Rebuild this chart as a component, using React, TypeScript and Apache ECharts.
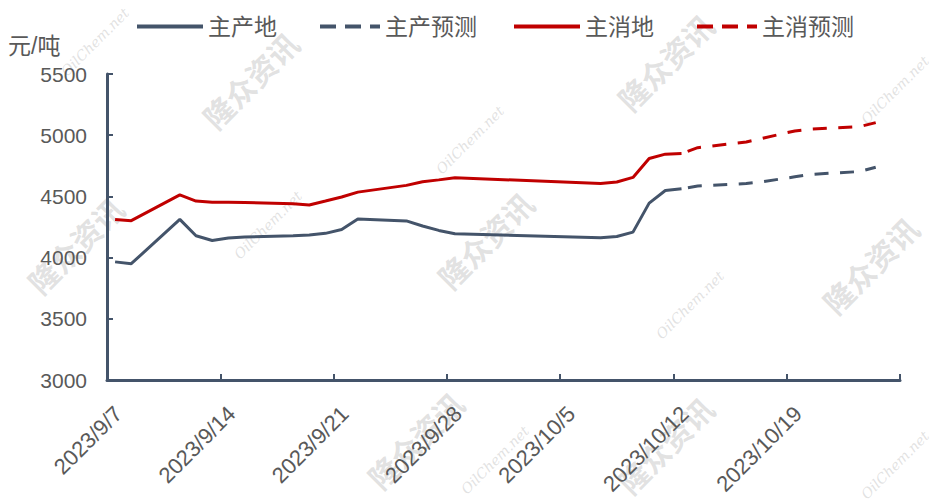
import React, { useEffect, useRef } from "react";
import * as echarts from "echarts";

// 实际价格日期与数据
const actualDates = [
  "2023/9/7", "2023/9/8", "2023/9/11", "2023/9/12", "2023/9/13", "2023/9/14", "2023/9/15",
  "2023/9/18", "2023/9/19", "2023/9/20", "2023/9/21", "2023/9/22",
  "2023/9/25", "2023/9/26", "2023/9/27", "2023/9/28",
  "2023/10/7", "2023/10/8", "2023/10/9", "2023/10/10", "2023/10/11", "2023/10/12",
];
const producerPrice = [
  3965, 3950, 4312, 4178, 4140, 4160, 4168,
  4178, 4185, 4198, 4230, 4315,
  4300, 4258, 4222, 4195,
  4162, 4172, 4208, 4445, 4548, 4562,
];
const consumerPrice = [
  4312, 4302, 4512, 4462, 4452, 4452, 4450,
  4440, 4430, 4462, 4495, 4535,
  4590, 4620, 4635, 4652,
  4606, 4618, 4655, 4810, 4845, 4850,
];

// 预测
const forecastDates = [
  "2023/10/12", "2023/10/13", "2023/10/16", "2023/10/17", "2023/10/18",
  "2023/10/19", "2023/10/20", "2023/10/23", "2023/10/24",
];
const producerForecast = [4562, 4585, 4605, 4620, 4640, 4660, 4680, 4703, 4738];
const consumerForecast = [4850, 4898, 4945, 4975, 5005, 5035, 5050, 5070, 5103];

// 坐标轴
const axisStartDate = "2023/9/7";
const axisEndDate = "2023/10/26";
const xLabelDates = ["2023/9/7", "2023/9/14", "2023/9/21", "2023/9/28", "2023/10/5", "2023/10/12", "2023/10/19"];
const xTickDates = ["2023/9/7", "2023/9/14", "2023/9/21", "2023/9/28", "2023/10/5", "2023/10/12", "2023/10/19", "2023/10/26"];
const yMin = 3000;
const yMax = 5500;
const yStep = 500;

const seriesNames = ["主产地", "主产预测", "主消地", "主消预测"];
const unitLabel = "元/吨";

const DAY = 86400000;
const toUTC = (s: string) => {
  const [y, m, d] = s.split("/").map(Number);
  return Date.UTC(y, m - 1, d);
};
const base = toUTC(axisStartDate);
const dayIdx = (s: string) => Math.round((toUTC(s) - base) / DAY);
const idxToLabel = (v: number) => {
  const dt = new Date(base + Math.round(v) * DAY);
  return `${dt.getUTCFullYear()}/${dt.getUTCMonth() + 1}/${dt.getUTCDate()}`;
};

const BLUE = "#44546a";
const RED = "#c00000";
const FONT = "'Liberation Sans', 'Noto Sans CJK SC', sans-serif";

const watermarks = [
  { t: "隆众资讯", x: 250, y: 80, s: 30 },
  { t: "隆众资讯", x: 75, y: 245, s: 30 },
  { t: "隆众资讯", x: 485, y: 240, s: 30 },
  { t: "隆众资讯", x: 665, y: 62, s: 30 },
  { t: "隆众资讯", x: 870, y: 265, s: 30 },
  { t: "隆众资讯", x: 415, y: 440, s: 30 },
  { t: "隆众资讯", x: 665, y: 445, s: 30 },
  { t: "OilChem.net", x: 268, y: 225, s: 14 },
  { t: "OilChem.net", x: 690, y: 305, s: 14 },
  { t: "OilChem.net", x: 895, y: 90, s: 14 },
  { t: "OilChem.net", x: 470, y: 140, s: 14 },
  { t: "OilChem.net", x: 95, y: 42, s: 14 },
  { t: "OilChem.net", x: 495, y: 460, s: 14 },
  { t: "OilChem.net", x: 895, y: 465, s: 14 },
];

export default function App() {
  const ref = useRef<HTMLDivElement>(null);
  useEffect(() => {
    if (!ref.current) return;
    const chart = echarts.init(ref.current, null, { renderer: "svg" });
    const startIdx = dayIdx(axisStartDate);
    const endIdx = dayIdx(axisEndDate);
    const mk = (ds: string[], vs: number[]) => ds.map((d, i) => [dayIdx(d), vs[i]]);
    const legendColors = [BLUE, BLUE, RED, RED];

    chart.setOption({
      animation: false,
      backgroundColor: "#ffffff",
      title: {
        text: unitLabel,
        left: 8,
        top: 34,
        padding: 0,
        textStyle: { fontSize: 23, fontWeight: "normal", color: "#595959", fontFamily: FONT },
      },
      legend: {
        data: seriesNames.map((n, i) => ({
          name: n,
          lineStyle: { color: legendColors[i], width: 4, type: i % 2 === 1 ? [16, 9] : "solid" },
        })),
        left: 135,
        top: 15,
        padding: 0,
        itemWidth: 66,
        itemHeight: 2,
        itemGap: 35,
        itemStyle: { opacity: 0 },
        textStyle: { fontSize: 23, color: "#595959", fontFamily: FONT },
      },
      grid: { left: 107, right: 40, top: 74, bottom: 124 },
      xAxis: {
        type: "value",
        min: startIdx - 0.5,
        max: endIdx - 0.5,
        splitLine: { show: false },
        axisLine: { show: true, onZero: false, lineStyle: { color: BLUE, width: 3 } },
        axisTick: {
          show: true,
          inside: true,
          length: 6,
          lineStyle: { color: BLUE, width: 2 },
          customValues: xTickDates.map((d) => dayIdx(d) - 0.5),
        },
        axisLabel: {
          rotate: 45,
          margin: 30,
          fontSize: 22,
          color: "#595959",
          fontFamily: FONT,
          customValues: xLabelDates.map((d) => dayIdx(d) + 0.2),
          formatter: (v: number) => idxToLabel(v),
        },
      },
      yAxis: {
        type: "value",
        min: yMin,
        max: yMax,
        interval: yStep,
        splitLine: { show: false },
        axisLine: { show: true, onZero: false, lineStyle: { color: BLUE, width: 3 } },
        axisTick: { show: true, inside: true, length: 6, lineStyle: { color: BLUE, width: 2 } },
        axisLabel: {
          margin: 20,
          fontSize: 21,
          color: "#595959",
          fontFamily: FONT,
          formatter: (v: number) => String(v),
        },
      },
      graphic: watermarks.map((w) => ({
        type: "text",
        x: w.x,
        y: w.y,
        rotation: Math.PI / 4,
        z: -10,
        silent: true,
        style: {
          text: w.t,
          fontSize: w.s,
          fontWeight: w.s > 20 ? "bold" : "normal",
          fontStyle: w.s > 20 ? "normal" : "italic",
          fontFamily: w.s > 20 ? "'Noto Sans CJK SC', sans-serif" : "'DejaVu Serif', serif",
          fill: "rgba(190,190,190,0.45)",
          align: "center",
          verticalAlign: "middle",
        },
      })),
      series: [
        {
          name: seriesNames[0],
          type: "line",
          data: mk(actualDates, producerPrice),
          symbol: "none",
          showSymbol: false,
          lineStyle: { color: BLUE, width: 3 },
          itemStyle: { color: BLUE },
          z: 3,
        },
        {
          name: seriesNames[1],
          type: "line",
          data: mk(forecastDates, producerForecast),
          symbol: "none",
          showSymbol: false,
          lineStyle: { color: BLUE, width: 3, type: [14, 11.5], dashOffset: 19 },
          itemStyle: { color: BLUE },
          z: 3,
        },
        {
          name: seriesNames[2],
          type: "line",
          data: mk(actualDates, consumerPrice),
          symbol: "none",
          showSymbol: false,
          lineStyle: { color: RED, width: 3 },
          itemStyle: { color: RED },
          z: 3,
        },
        {
          name: seriesNames[3],
          type: "line",
          data: mk(forecastDates, consumerForecast),
          symbol: "none",
          showSymbol: false,
          lineStyle: { color: RED, width: 3, type: [14, 11.5], dashOffset: 19 },
          itemStyle: { color: RED },
          z: 3,
        },
      ],
    });
    return () => chart.dispose();
  }, []);
  return (
    <div
      ref={ref}
      style={{ position: "fixed", left: 0, top: 0, width: 940, height: 504, background: "#fff" }}
    />
  );
}
